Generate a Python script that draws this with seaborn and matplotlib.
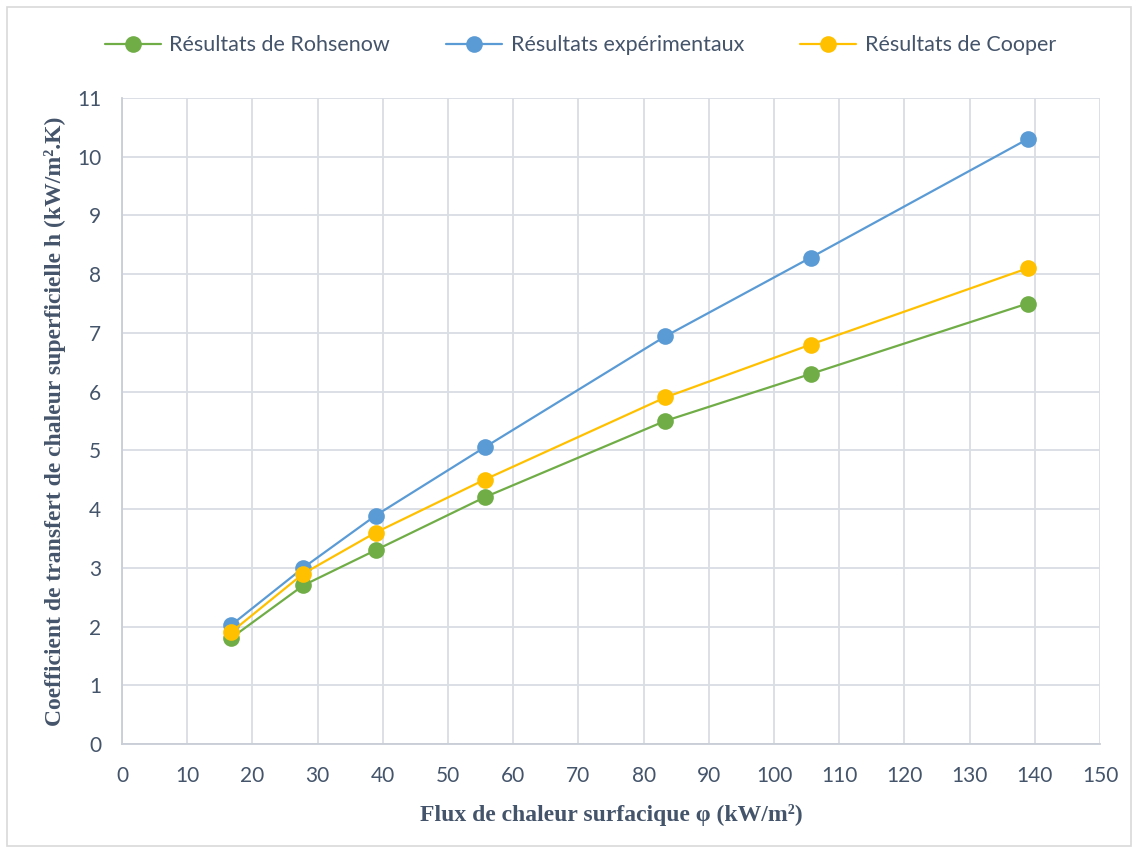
import numpy as np
import pandas as pd
import matplotlib
matplotlib.use("Agg")
import matplotlib.pyplot as plt
import seaborn as sns

# Heat flux (kW/m²)
flux = [16.7, 27.8, 38.9, 55.6, 83.3, 105.6, 138.9]

# Heat transfer coefficient h (kW/m².K)
h_rohsenow = [1.80, 2.70, 3.30, 4.20, 5.50, 6.30, 7.50]
h_experimental = [2.02, 3.00, 3.89, 5.05, 6.94, 8.28, 10.30]
h_cooper = [1.90, 2.90, 3.60, 4.50, 5.90, 6.80, 8.10]

series_names = ["Résultats de Rohsenow", "Résultats expérimentaux", "Résultats de Cooper"]
series_values = [h_rohsenow, h_experimental, h_cooper]
series_colors = ["#70AD47", "#5B9BD5", "#FFC000"]

x_ticks = list(range(0, 151, 10))
y_ticks = list(range(0, 12, 1))

df = pd.concat(
    [pd.DataFrame({"flux": flux, "h": vals, "serie": name})
     for name, vals in zip(series_names, series_values)],
    ignore_index=True,
)

sns.set_theme(style="white")
plt.rcParams["font.family"] = ["Lato", "DejaVu Sans"]

text_col = "#44546A"
grid_col = "#D9DDE4"

fig = plt.figure(figsize=(11.38, 8.52), dpi=100)
ax = fig.add_axes([0.1072, 0.1268, 0.8594, 0.7582])

sns.lineplot(
    data=df, x="flux", y="h", hue="serie", style="serie",
    hue_order=series_names, style_order=series_names,
    palette=dict(zip(series_names, series_colors)),
    markers={n: "o" for n in series_names}, dashes=False,
    linewidth=1.6, markersize=12, markeredgewidth=0,
    ax=ax, legend=True, zorder=3,
)

ax.set_xlim(0, 150)
ax.set_ylim(0, 11)
ax.set_xticks(x_ticks)
ax.set_yticks(y_ticks)
ax.grid(True, color=grid_col, linewidth=1.3)
ax.set_axisbelow(True)
for side in ["top", "right"]:
    ax.spines[side].set_visible(False)
for side in ["left", "bottom"]:
    ax.spines[side].set_color("#C8CDD6")
    ax.spines[side].set_linewidth(1.3)
ax.tick_params(axis="both", length=0, labelsize=15, labelcolor=text_col)
ax.tick_params(axis="x", pad=16)
ax.tick_params(axis="y", pad=15)

label_font = dict(family=["Liberation Serif"], weight="bold", size=17, color=text_col)
ax.set_xlabel("Flux de chaleur surfacique φ (kW/m²)", labelpad=13, **label_font)
ax.set_ylabel("Coefficient de transfert de chaleur superficielle h (kW/m².K)", labelpad=8, **label_font)

handles, labels = ax.get_legend_handles_labels()
ax.legend_.remove()
fig.legend(
    handles, labels, loc="center", bbox_to_anchor=(0.51, 0.947), ncol=3,
    frameon=False, fontsize=15.5, labelcolor=text_col,
    handlelength=2.6, handletextpad=0.4, columnspacing=2.6,
)

fig.patches.append(plt.Rectangle((0.006, 0.007), 0.988, 0.985, transform=fig.transFigure,
                                 fill=False, edgecolor="#D9D9D9", linewidth=1.2))

fig.savefig("out.png", dpi=100, facecolor="white")
